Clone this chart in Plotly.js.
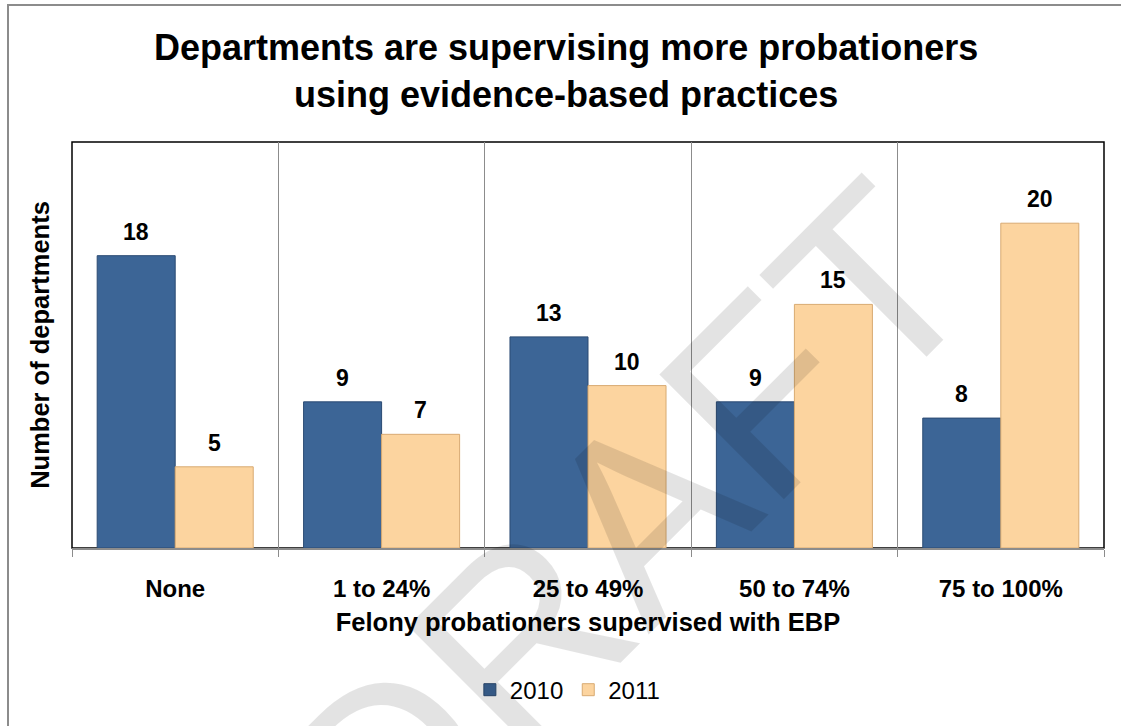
<!DOCTYPE html>
<html>
<head>
<meta charset="utf-8">
<script src="https://cdn.plot.ly/plotly-3.0.1.min.js"></script>
<style>
  html, body { margin: 0; padding: 0; background: #ffffff; overflow: hidden; }
  #wrap { position: relative; width: 1121px; height: 726px; overflow: hidden; }
  #chart { position: absolute; left: 0; top: 0; width: 1121px; height: 726px; }
  #frame { position: absolute; left: 7px; top: 4px; width: 1200px; height: 800px;
           border: 2px solid #8c8c8c; pointer-events: none; }
</style>
</head>
<body>
<div id="wrap">
  <div id="chart"></div>
  <div id="frame"></div>
</div>
<script>
// ---- data ----
const categories = ["None", "1 to 24%", "25 to 49%", "50 to 74%", "75 to 100%"];
const series2010 = [18, 9, 13, 9, 8];
const series2011 = [5, 7, 10, 15, 20];
const seriesNames = ["2010", "2011"];

// ---- style ----
const FONT = "'Liberation Sans', Arial, sans-serif";
const W = 1121, H = 726;
const margin = { l: 72, r: 17, t: 142, b: 178 };
const bargap = 0.244;
const plotW = W - margin.l - margin.r;
const barW = (plotW / categories.length) * (1 - bargap) / 2;

const traces = [
  {
    type: 'bar', name: seriesNames[0], x: categories, y: series2010,
    marker: { color: '#3c6596', line: { color: '#2b4b73', width: 1 } },
    hoverinfo: 'skip'
  },
  {
    type: 'bar', name: seriesNames[1], x: categories, y: series2011,
    marker: { color: '#fcd49f', line: { color: '#d8aa72', width: 1 } },
    hoverinfo: 'skip'
  }
];

const annotations = [];
[series2010, series2011].forEach((vals, s) => {
  vals.forEach((v, i) => {
    annotations.push({
      x: categories[i], y: v, xref: 'x', yref: 'y',
      xshift: (s === 0 ? -1 : 1) * barW / 2,
      yshift: 24, yanchor: 'middle', showarrow: false,
      text: '<b>' + v + '</b>',
      font: { family: FONT, size: 23, color: '#000000' }
    });
  });
});

// DRAFT watermark
annotations.push({
  xref: 'paper', yref: 'paper', x: 0.536, y: 0.04,
  xanchor: 'center', yanchor: 'middle', showarrow: false,
  text: 'DRAFT', textangle: -45,
  font: { family: FONT, size: 256, color: 'rgba(0,0,0,0.11)' }
});

const layout = {
  width: W, height: H,
  margin: margin,
  paper_bgcolor: '#ffffff', plot_bgcolor: '#ffffff',
  font: { family: FONT, color: '#000000' },
  title: {
    text: '<b>Departments are supervising more probationers<br>using evidence-based practices</b>',
    font: { family: FONT, size: 36, color: '#000000' },
    x: 0.505, xref: 'container', xanchor: 'center',
    y: 1 - 60 / H, yref: 'container', yanchor: 'top'
  },
  barmode: 'group', bargap: bargap, bargroupgap: 0,
  showlegend: true,
  legend: {
    orientation: 'h', x: 0.48, xanchor: 'center', y: -0.35, yanchor: 'middle',
    font: { family: FONT, size: 24, color: '#000000' },
    traceorder: 'normal', itemclick: false
  },
  xaxis: {
    type: 'category',
    tickson: 'boundaries', ticks: 'outside', ticklen: 7, tickcolor: '#8c8c8c', tickwidth: 1,
    showgrid: true, gridcolor: '#8c8c8c', gridwidth: 1,
    showline: true, linecolor: '#8c8c8c', linewidth: 2,
    tickfont: { family: FONT, size: 24, color: '#000000' },
    ticklabelstandoff: 18,
    tickprefix: '<b>', ticksuffix: '</b>',
    title: {
      text: '<b>Felony probationers supervised with EBP</b>',
      font: { family: FONT, size: 25.5, color: '#000000' },
      standoff: 12
    },
    fixedrange: true
  },
  yaxis: {
    range: [0, 25], showticklabels: false, ticks: '', showgrid: false, zeroline: false,
    showline: false,
    title: {
      text: '<b>Number of departments</b>',
      font: { family: FONT, size: 25.5, color: '#000000' },
      standoff: 14
    },
    fixedrange: true
  },
  shapes: [
    { type: 'rect', xref: 'paper', yref: 'paper', x0: 0, x1: 1, y0: 0, y1: 1,
      line: { color: '#000000', width: 1.5 }, layer: 'below' }
  ],
  annotations: annotations
};

Plotly.newPlot('chart', traces, layout, { displayModeBar: false, staticPlot: true });
</script>
</body>
</html>
